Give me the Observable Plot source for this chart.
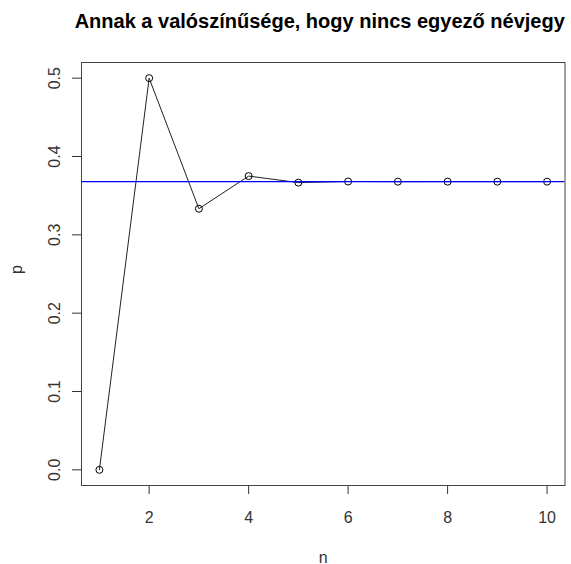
<!DOCTYPE html>
<html>
<head>
<meta charset="utf-8">
<script src="https://cdn.jsdelivr.net/npm/d3@7"></script>
<script src="https://cdn.jsdelivr.net/npm/@observablehq/plot@0.6"></script>
<style>
  html, body { margin: 0; padding: 0; background: #fff; }
  #chart svg { display: block; }
</style>
</head>
<body>
<div id="chart"></div>
<script>
const nValues = [1, 2, 3, 4, 5, 6, 7, 8, 9, 10];
const pValues = [0, 0.5, 0.333333, 0.375, 0.366667, 0.368056, 0.367857, 0.367882, 0.367879, 0.367879];
const limitValue = 0.367879;
const xTicks = [2, 4, 6, 8, 10];
const yTicks = [0, 0.1, 0.2, 0.3, 0.4, 0.5];
const titleText = "Annak a valószínűsége, hogy nincs egyező névjegy";
const xLabel = "n";
const yLabel = "p";

const data = nValues.map((n, i) => ({n, p: pValues[i]}));
const font = "'Liberation Sans', Arial, sans-serif";

const chart = Plot.plot({
  width: 571,
  height: 564,
  marginLeft: 81,
  marginRight: 6.5,
  marginTop: 62,
  marginBottom: 79,
  style: {fontFamily: font, background: "#fff", color: "#000", overflow: "visible"},
  x: {domain: [0.64, 10.36], axis: null},
  y: {domain: [-0.02, 0.52], axis: null},
  marks: [
    Plot.axisX({ticks: xTicks, tickSize: 9, tickPadding: 17, fontSize: 16, label: null, color: "#333", tickFormat: d => String(d)}),
    Plot.axisY({ticks: yTicks, tickSize: 9, tickPadding: 13, tickRotate: -90, fontSize: 16, label: null, color: "#333", tickFormat: d => d.toFixed(1)}),
    Plot.line(data, {x: "n", y: "p", stroke: "#222", strokeWidth: 1}),
    Plot.dot(data, {x: "n", y: "p", r: 3.5, stroke: "#000", strokeWidth: 1, fill: "none"}),
    Plot.ruleY([limitValue], {stroke: "#0000ff", strokeWidth: 1.1}),
    Plot.frame({stroke: "#444", strokeWidth: 1}),
    Plot.text([titleText], {text: d => d, frameAnchor: "top", dx: -3.5, dy: -34.5, lineAnchor: "bottom", fontSize: 20, fontWeight: "bold", fill: "#000"}),
    Plot.text([xLabel], {text: d => d, frameAnchor: "bottom", dy: 77, lineAnchor: "bottom", fontSize: 16, fill: "#333"}),
    Plot.text([yLabel], {text: d => d, frameAnchor: "left", dx: -65, rotate: -90, lineAnchor: "middle", fontSize: 16, fill: "#333"})
  ]
});
document.getElementById("chart").appendChild(chart);
</script>
</body>
</html>
